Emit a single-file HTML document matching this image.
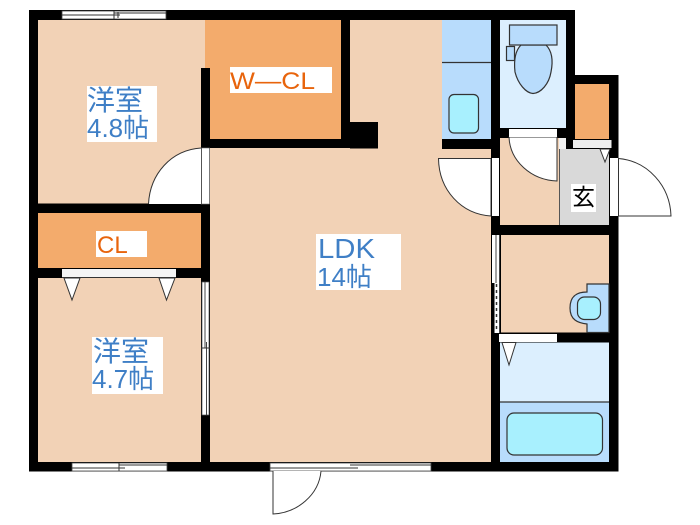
<!DOCTYPE html>
<html><head><meta charset="utf-8">
<style>
html,body{margin:0;padding:0;background:#fff;width:700px;height:525px;overflow:hidden}
svg{display:block}
.j{font-family:"Liberation Sans","Noto Sans CJK JP",sans-serif;fill:#3f7fc6}
.o{font-family:"Liberation Sans",sans-serif;fill:#e8640c}
</style></head><body>
<svg width="700" height="525" viewBox="0 0 700 525" xmlns="http://www.w3.org/2000/svg">
<rect width="700" height="525" fill="#fff"/>
<!-- outer black mass -->
<path d="M29 10H575V75H618.500V471.500H29Z" fill="#000"/>
<!-- rooms -->
<rect x="38" y="20" width="168" height="183.500" fill="#f2d2b6"/>
<rect x="205" y="20" width="136" height="119" fill="#f3ab6c"/>
<rect x="201" y="68" width="9" height="80" fill="#000"/>
<rect x="38" y="213" width="163" height="55" fill="#f3ab6c"/>
<rect x="38" y="278" width="163" height="184" fill="#f2d2b6"/>
<rect x="210" y="148" width="281" height="314" fill="#f2d2b6"/>
<rect x="350" y="20" width="92" height="128" fill="#f2d2b6"/>
<rect x="350" y="122" width="28" height="26.500" fill="#000"/>
<rect x="442" y="139" width="49" height="10" fill="#000"/>
<!-- kitchen -->
<rect x="442" y="20" width="49" height="119" fill="#b8dcfc"/>
<line x1="442" y1="62.500" x2="491" y2="62.500" stroke="#333" stroke-width="1.200"/>
<rect x="449" y="94.500" width="29.500" height="38.500" rx="5" fill="#a8f0fe" stroke="#333" stroke-width="1.200"/>
<!-- toilet -->
<rect x="500" y="20" width="66" height="108" fill="#dceffe"/>
<path d="M521 45C514 52 514 63 515 72C518 84 526 93 533 93.500C541 93 549 84 551 72C553 62 553 52 546 45Z" fill="#b8dcfc" stroke="#333" stroke-width="1.200"/>
<rect x="509.500" y="25" width="47.500" height="20" fill="#b8dcfc" stroke="#333" stroke-width="1.200"/>
<rect x="506.500" y="46.500" width="8" height="14" fill="#b8dcfc" stroke="#333" stroke-width="1.200"/>
<!-- hall + genkan -->
<rect x="500" y="138" width="60" height="87" fill="#f2d2b6"/>
<rect x="559" y="149" width="50" height="76" fill="#d9d9d9"/>
<line x1="559.500" y1="138" x2="559.500" y2="225" stroke="#555" stroke-width="1"/>
<path d="M509 137H557V181C531 180 510 161 509 137Z" fill="#fff" stroke="#333" stroke-width="1"/>
<rect x="509" y="129" width="48" height="8" fill="#fff"/>
<rect x="559" y="138" width="7" height="11" fill="#f0f0f0"/>
<rect x="566" y="138" width="9" height="11" fill="#000"/>
<rect x="575" y="84" width="34" height="55" fill="#f3ab6c"/>
<rect x="573" y="140" width="38.500" height="8" fill="#eee"/>
<path d="M600 149H610L605 162Z" fill="#fff" stroke="#333" stroke-width="1"/>
<!-- LDK-hall door -->
<rect x="492" y="158" width="7" height="58" fill="#fff"/>
<path d="M491 216C461 214 439 190 438.500 158.500H491Z" fill="#fff" stroke="#333" stroke-width="1"/>
<!-- entrance door -->
<rect x="610" y="158" width="8.500" height="58" fill="#fff"/>
<path d="M618.500 158.500C648 161 670 186 671 216H618.500Z" fill="#fff" stroke="#333" stroke-width="1"/>
<!-- room1 door -->
<rect x="201" y="148" width="8.500" height="56" fill="#fff" stroke="#777" stroke-width=".6"/>
<path d="M201 148C171 150 150 174 148.500 204H201Z" fill="#fff"/>
<path d="M201 148C171 150 150 174 148.500 204" fill="none" stroke="#333" stroke-width="1"/>
<line x1="201.500" y1="148" x2="201.500" y2="204" stroke="#555" stroke-width="1"/>
<!-- toilet room 2 -->
<rect x="501" y="235" width="108" height="97.500" fill="#f2d2b6"/>
<path d="M587 284H609V332.500H587V324C578 323 570 320 570 308C570 295 578 292 587 292Z" fill="#b8dcfc" stroke="#333" stroke-width="1.200"/>
<rect x="577.500" y="297" width="23" height="22.500" rx="7" fill="#a8f0fe" stroke="#333" stroke-width="1.200"/>
<rect x="499" y="334" width="58" height="8" fill="#fff"/>
<!-- bath -->
<rect x="500" y="342.500" width="109" height="59" fill="#dceffe"/>
<rect x="500" y="402" width="109" height="60" fill="#b8dcfc"/>
<line x1="500" y1="402" x2="609" y2="402" stroke="#333" stroke-width="1.200"/>
<rect x="507" y="413" width="95.500" height="42" rx="7" fill="#a8f0fe" stroke="#333" stroke-width="1.200"/>
<path d="M502 342.500H516L509 365Z" fill="#fff" stroke="#333" stroke-width="1"/>
<!-- sliding door LDK / toilet -->
<rect x="492" y="235" width="7.500" height="98" fill="#fff"/>
<line x1="496" y1="235" x2="496" y2="283" stroke="#444" stroke-width="1"/>
<line x1="499.500" y1="235" x2="499.500" y2="333" stroke="#444" stroke-width="1"/>
<rect x="491" y="283" width="3.500" height="50" fill="#000"/>
<line x1="496.500" y1="284" x2="496.500" y2="331" stroke="#333" stroke-width="1.500" stroke-dasharray="3 3"/>
<!-- CL door -->
<rect x="62" y="269" width="114" height="8" fill="#f4f4f4"/>
<line x1="62" y1="277.500" x2="176" y2="277.500" stroke="#333" stroke-width="1"/>
<path d="M64 278H80L72 300Z" fill="#fff" stroke="#333" stroke-width="1"/>
<path d="M159 278H175L166.500 300Z" fill="#fff" stroke="#333" stroke-width="1"/>
<!-- room 2 east sliding -->
<rect x="202" y="282" width="7" height="133" fill="#fff"/>
<rect x="202" y="282" width="7" height="133" fill="none" stroke="#555" stroke-width=".7"/>
<line x1="205" y1="282" x2="205" y2="348" stroke="#444" stroke-width="1"/>
<line x1="206.500" y1="342" x2="206.500" y2="415" stroke="#444" stroke-width="1"/>
<line x1="201" y1="348" x2="210" y2="348" stroke="#333" stroke-width="1"/>
<!-- windows -->
<g fill="#fff" stroke="#444" stroke-width=".8">
<rect x="62" y="11" width="104" height="8"/>
<rect x="72" y="463" width="95" height="8"/>
<rect x="270" y="463" width="161" height="8"/>
</g>
<g stroke="#333" stroke-width="1" fill="none">
<path d="M62 15H120M114 13H166M114 11V19M118 12V18"/>
<path d="M72 468H125M119 465H167M119 463V471"/>
<path d="M270 468H358M350 465H431"/>
</g>
<!-- bottom door -->
<path d="M273 471V514C297 513 319 495 321 471" fill="#fff" stroke="#333" stroke-width="1"/>
<!-- labels -->
<rect x="87" y="86" width="70" height="56" fill="#fff"/>
<text class="j" x="87" y="110" font-size="28">洋室</text>
<text class="j" x="87" y="137" font-size="26">4.8帖</text>
<rect x="92" y="337" width="71" height="57" fill="#fff"/>
<text class="j" x="93" y="361" font-size="28">洋室</text>
<text class="j" x="92" y="388" font-size="26">4.7帖</text>
<rect x="316" y="234" width="85" height="56" fill="#fff"/>
<text class="j" x="318" y="258" font-size="28" textLength="57" lengthAdjust="spacingAndGlyphs">LDK</text>
<text class="j" x="317" y="286" font-size="26">14帖</text>
<rect x="230" y="67" width="102" height="26" fill="#fff"/>
<text class="o" x="230" y="89" font-size="24" textLength="85" lengthAdjust="spacingAndGlyphs">W—CL</text>
<rect x="96" y="231" width="51" height="26" fill="#fff"/>
<text class="o" x="97" y="253" font-size="24">CL</text>
<rect x="571" y="184" width="25" height="28" fill="#fff"/>
<text x="572" y="205" font-size="23" fill="#000" font-family="'Liberation Sans','Noto Sans CJK JP',sans-serif">玄</text>
</svg>
</body></html>
